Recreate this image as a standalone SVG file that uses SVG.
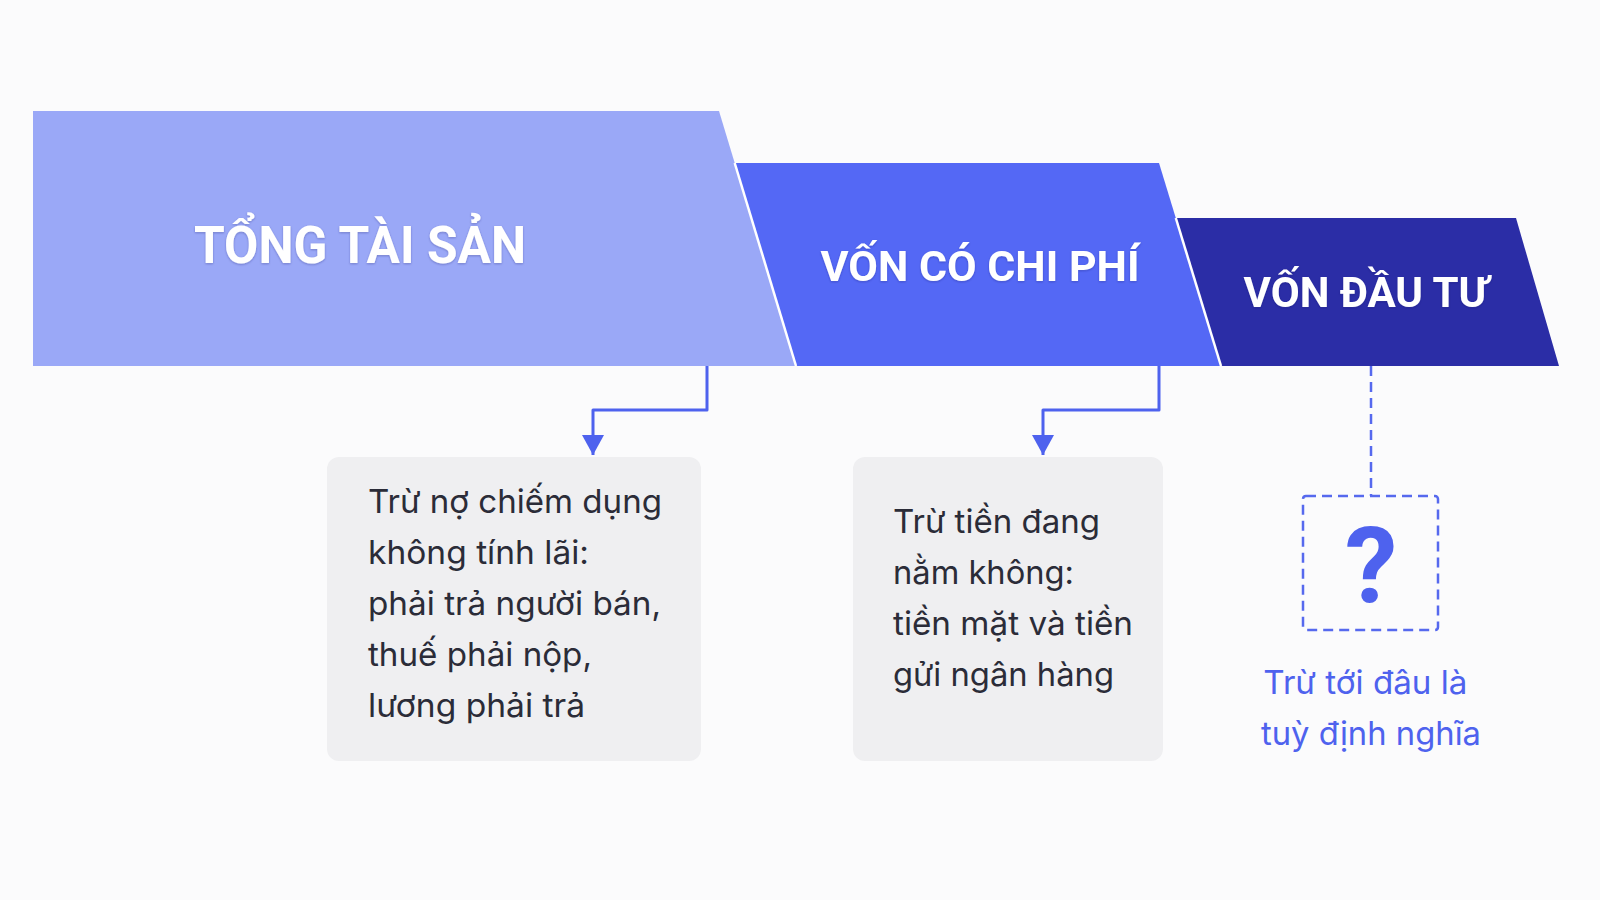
<svg xmlns="http://www.w3.org/2000/svg" width="1600" height="900" viewBox="0 0 1600 900">
  <defs>
    <style>
      .title { font-family: Roboto, "Liberation Sans", sans-serif; font-weight: 700; fill: #FFFFFF; text-anchor: middle; }
      .body { font-family: Inter, "Noto Sans", "Liberation Sans", sans-serif; font-size: 33px; fill: #2B2C38; }
      .note { font-family: Inter, "Noto Sans", "Liberation Sans", sans-serif; font-size: 33px; fill: #4E62EE; text-anchor: middle; }
      .conn { fill: none; stroke: #4E62EE; stroke-width: 3; stroke-linejoin: round; }
      .dash { fill: none; stroke: #5669EE; stroke-width: 2.5; stroke-dasharray: 10 6; }
      .card { fill: #EFEFF1; }
      .sep { stroke: #FFFFFF; stroke-width: 2.5; }
    </style>
    <marker id="arrow" viewBox="0 0 20 22" refX="20" refY="11" markerWidth="20" markerHeight="22" markerUnits="userSpaceOnUse" orient="auto">
      <path d="M0,0 L20,11 L0,22 z" fill="#4E62EE"/>
    </marker>
    <filter id="ts" x="-10%" y="-30%" width="120%" height="160%">
      <feDropShadow dx="0" dy="1" stdDeviation="1.2" flood-color="#1A1F60" flood-opacity="0.3"/>
    </filter>
  </defs>

  <rect x="0" y="0" width="1600" height="900" fill="#FBFBFC"/>

  <g id="node-tong-tai-san">
    <polygon points="33,111 719,111 796,366 33,366" fill="#9AA8F7"/>
    <text class="title" x="360" y="263" font-size="52" textLength="332" lengthAdjust="spacingAndGlyphs" filter="url(#ts)">TỔNG TÀI SẢN</text>
  </g>

  <g id="node-von-co-chi-phi">
    <polygon points="734.7,163 1159,163 1221,366 796,366" fill="#5468F5"/>
    <line class="sep" x1="734.7" y1="163" x2="796" y2="366"/>
    <text class="title" x="980" y="281" font-size="43" textLength="319" lengthAdjust="spacingAndGlyphs" filter="url(#ts)">VỐN CÓ CHI PHÍ</text>
  </g>

  <g id="node-von-dau-tu">
    <polygon points="1175.8,218 1516,218 1559,366 1221,366" fill="#2B2DA6"/>
    <line class="sep" x1="1175.8" y1="218" x2="1221" y2="366"/>
    <text class="title" x="1366" y="307" font-size="43" textLength="245" lengthAdjust="spacingAndGlyphs" filter="url(#ts)">VỐN ĐẦU TƯ</text>
  </g>

  <g id="connectors">
    <path class="conn" d="M707,366 V410 H593 V455" marker-end="url(#arrow)"/>
    <path class="conn" d="M1159,366 V410 H1043 V455" marker-end="url(#arrow)"/>
    <path class="dash" d="M1371,366 V496"/>
  </g>

  <g id="node-tru-no">
    <rect class="card" x="327" y="457" width="374" height="304" rx="12"/>
    <text class="body">
      <tspan x="368" y="513" textLength="294" lengthAdjust="spacingAndGlyphs">Trừ nợ chiếm dụng</tspan>
      <tspan x="368" y="564" textLength="221" lengthAdjust="spacingAndGlyphs">không tính lãi:</tspan>
      <tspan x="368" y="615" textLength="293" lengthAdjust="spacingAndGlyphs">phải trả người bán,</tspan>
      <tspan x="368" y="666" textLength="224" lengthAdjust="spacingAndGlyphs">thuế phải nộp,</tspan>
      <tspan x="368" y="717" textLength="217" lengthAdjust="spacingAndGlyphs">lương phải trả</tspan>
    </text>
  </g>

  <g id="node-tru-tien">
    <rect class="card" x="853" y="457" width="310" height="304" rx="12"/>
    <text class="body">
      <tspan x="893" y="533" textLength="207" lengthAdjust="spacingAndGlyphs">Trừ tiền đang</tspan>
      <tspan x="893" y="584" textLength="181" lengthAdjust="spacingAndGlyphs">nằm không:</tspan>
      <tspan x="893" y="635" textLength="240" lengthAdjust="spacingAndGlyphs">tiền mặt và tiền</tspan>
      <tspan x="893" y="686" textLength="221" lengthAdjust="spacingAndGlyphs">gửi ngân hàng</tspan>
    </text>
  </g>

  <g id="node-dinh-nghia">
    <rect class="dash" x="1303" y="496" width="135" height="134" rx="3"/>
    <text x="1371" y="602" font-family="Roboto, 'Liberation Sans', sans-serif" font-weight="700" font-size="105" fill="#4E62EE" text-anchor="middle">?</text>
    <text class="note">
      <tspan x="1370" y="694" textLength="204" lengthAdjust="spacingAndGlyphs">Trừ tới đâu là</tspan>
      <tspan x="1371" y="745" textLength="220" lengthAdjust="spacingAndGlyphs">tuỳ định nghĩa</tspan>
    </text>
  </g>
</svg>
